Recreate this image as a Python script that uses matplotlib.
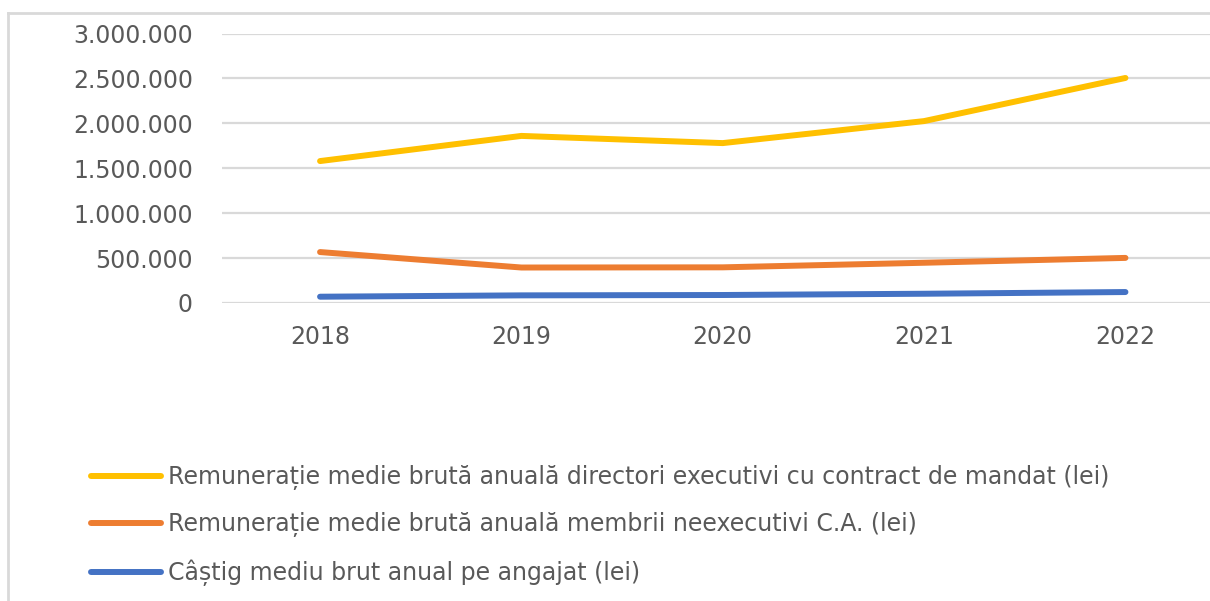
import matplotlib
matplotlib.use("Agg")
import matplotlib.pyplot as plt
from matplotlib.lines import Line2D

# Date
years = ["2018", "2019", "2020", "2021", "2022"]
directori = [1580000, 1860000, 1780000, 2025000, 2505000]
membri_ca = [567000, 395000, 397000, 448000, 502000]
angajat = [70000, 85000, 89000, 103000, 122000]

labels = [
    "Remunerație medie brută anuală directori executivi cu contract de mandat (lei)",
    "Remunerație medie brută anuală membrii neexecutivi C.A. (lei)",
    "Câștig mediu brut anual pe angajat (lei)",
]
colors = ["#FFC000", "#ED7D31", "#4472C4"]
text_color = "#595959"
grid_color = "#D9D9D9"
fs = 17

plt.rcParams["font.family"] = ["DejaVu Sans"]

fig = plt.figure(figsize=(12.10, 6.01), dpi=100)
ax = fig.add_axes([222 / 1210, 1 - 303 / 601, 1 - 222 / 1210, (303 - 33.5) / 601])

x = list(range(len(years)))
for series, color, label in zip([directori, membri_ca, angajat], colors, labels):
    ax.plot(x, series, color=color, lw=4.3, solid_capstyle="round", label=label)

ax.set_ylim(0, 3000000)
ax.set_xlim(-0.487, 4.42)
ax.set_yticks(range(0, 3000001, 500000))
ax.set_yticklabels([f"{v:,}".replace(",", ".") for v in range(0, 3000001, 500000)])
ax.set_xticks(x)
ax.set_xticklabels(years)
ax.tick_params(axis="both", length=0, labelsize=fs, labelcolor=text_color)
ax.tick_params(axis="y", pad=21)
ax.tick_params(axis="x", pad=16)
ax.grid(axis="y", color=grid_color, lw=1.6)
ax.set_axisbelow(True)
for s in ax.spines.values():
    s.set_visible(False)

# chenarul graficului (stanga + sus)
fig.add_artist(Line2D([8 / 1210, 8 / 1210], [0, 1 - 13 / 601], color=grid_color, lw=2, transform=fig.transFigure))
fig.add_artist(Line2D([8 / 1210, 1], [1 - 13 / 601, 1 - 13 / 601], color=grid_color, lw=2, transform=fig.transFigure))

handles, lbls = ax.get_legend_handles_labels()
leg = fig.legend(handles, lbls, loc="upper left", bbox_to_anchor=(91 / 1210, 1 - 465 / 601),
                 frameon=False, fontsize=fs, handlelength=2.95, handletextpad=0.3,
                 labelspacing=0.95, borderaxespad=0, borderpad=0)
for t in leg.get_texts():
    t.set_color(text_color)

fig.savefig("out.png", dpi=100, facecolor="white")
